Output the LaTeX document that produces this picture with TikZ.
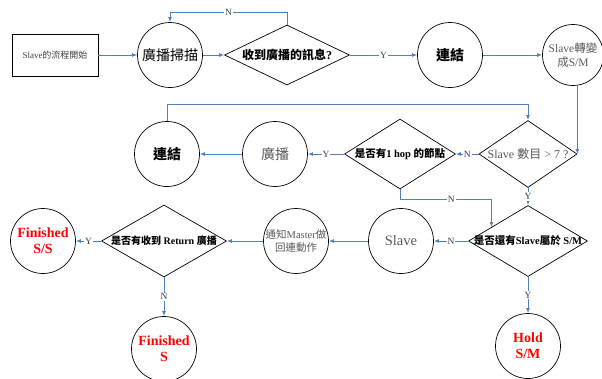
\documentclass[tikz,border=0pt]{standalone}
\usepackage{fontspec}
\setmainfont{Liberation Serif}
\newfontfamily\cjk{Noto Sans CJK TC}
\usetikzlibrary{arrows.meta}
\usetikzlibrary{shapes}
\usetikzlibrary{calc}
\definecolor{FlowBlue}{HTML}{4F81BD}
\definecolor{TxtGray}{HTML}{595959}
\definecolor{LblGray}{HTML}{404040}
\newcommand{\fsz}[1]{\fontsize{#1}{#1}\selectfont}
\newcommand{\nowide}[1]{\makebox[0pt]{#1}}
\tikzstyle{StartNode}=[rectangle, draw=black, line width=0.8pt, minimum width=86pt, minimum height=42pt, inner sep=0pt, font=\fsz{9}, text=LblGray]
\tikzstyle{StepNode}=[circle, draw=black, line width=0.7pt, minimum size=65pt, inner sep=0pt, align=center]
\tikzstyle{GrayNode}=[StepNode, text=TxtGray]
\tikzstyle{EndNode}=[StepNode, text=red, font=\bfseries\fsz{14}]
\tikzstyle{AskNode}=[diamond, draw=black, line width=0.7pt, inner sep=0pt, font=\bfseries]
\tikzstyle{Flow}=[->, draw=FlowBlue, line width=1pt]
\tikzstyle{Lbl}=[fill=white, inner sep=1pt, font=\fsz{9.5}, text=LblGray]
\tikzset{>={Latex[length=5pt,width=4pt]}}

\begin{document}
\begin{tikzpicture}[x=1pt, y=-1pt]
\useasboundingbox (0,0) rectangle (602,378);
\node[StartNode](start) at (55,55) {Slave{\cjk 的流程開始}};
\node[StepNode, font=\fsz{14}](scan) at (170,55) {\cjk 廣播掃描};
\node[AskNode, minimum width=125pt, minimum height=60pt, font=\bfseries\fsz{12}](recv) at (287,55) {\nowide{{\cjk 收到廣播的訊息}?}};
\node[StepNode, font=\bfseries\fsz{14}](link1) at (450,55) {\cjk 連結};
\node[GrayNode, minimum size=61pt, font=\fsz{11.5}](toSM) at (573,55) {Slave{\cjk 轉變}\\[2pt]{\cjk 成}S/M};
\node[AskNode, minimum width=98pt, minimum height=67pt, font=\fsz{12}, text=TxtGray](cnt) at (528,154) {\nowide{Slave {\cjk 數目} > 7 ?}};
\node[AskNode, minimum width=111pt, minimum height=70pt, font=\bfseries\fsz{10.5}](hop) at (400,154) {\nowide{{\cjk 是否有}1 hop {\cjk 的節點}}};
\node[GrayNode, font=\fsz{14}](bcast) at (275,154) {\cjk 廣播};
\node[StepNode, font=\bfseries\fsz{14}](link2) at (167,154) {\cjk 連結};
\node[AskNode, minimum width=119pt, minimum height=71pt, font=\bfseries\fsz{10.5}](sm) at (528,241) {\nowide{{\cjk 是否還有}Slave{\cjk 屬於} S/M}};
\node[GrayNode, font=\fsz{14.5}](slv) at (401,241) {Slave};
\node[GrayNode, font=\fsz{10.5}](notify) at (296,241) {{\cjk 通知}Master{\cjk 做}\\[2pt]{\cjk 回連動作}};
\node[AskNode, minimum width=125pt, minimum height=72pt, font=\bfseries\fsz{10}](ret) at (164,241) {\nowide{{\cjk 是否有收到} Return {\cjk 廣播}}};
\node[EndNode](fss) at (43,241) {Finished\\[2pt]S/S};
\node[EndNode](fs) at (164,349) {Finished\\[2pt]S};
\node[EndNode](hold) at (528,346) {Hold\\[2pt]S/M};

\draw[Flow](start) -- (scan);
\draw[Flow](scan) -- (recv);
\draw[Flow](recv.north) -- (recv.north |- 0,12) -| node[Lbl, pos=0.25]{N} (scan.north);
\draw[Flow](recv) -- node[Lbl]{Y} (link1);
\draw[Flow](link1) -- (toSM);
\draw[Flow](toSM.south -| cnt.east) -- (cnt.east);
\draw[Flow](link2.north) -- (link2.north |- 0,104) -| (cnt.north);
\draw[Flow](cnt) -- node[Lbl]{N} (hop);
\draw[Flow](hop) -- node[Lbl]{Y} (bcast);
\draw[Flow](bcast) -- (link2);
\draw[Flow](hop.south) -- (hop.south |- 0,199) -| node[Lbl, pos=0.28]{N} ($(sm.west)!0.39!(sm.north)$);
\draw[Flow](cnt) -- node[Lbl]{Y} (sm);
\draw[Flow](sm) -- node[Lbl]{N} (slv);
\draw[Flow](sm) -- node[Lbl]{Y} (hold);
\draw[Flow](slv) -- (notify);
\draw[Flow](notify) -- (ret);
\draw[Flow](ret) -- node[Lbl]{Y} (fss);
\draw[Flow](ret) -- node[Lbl]{N} (fs);
\end{tikzpicture}
\end{document}
